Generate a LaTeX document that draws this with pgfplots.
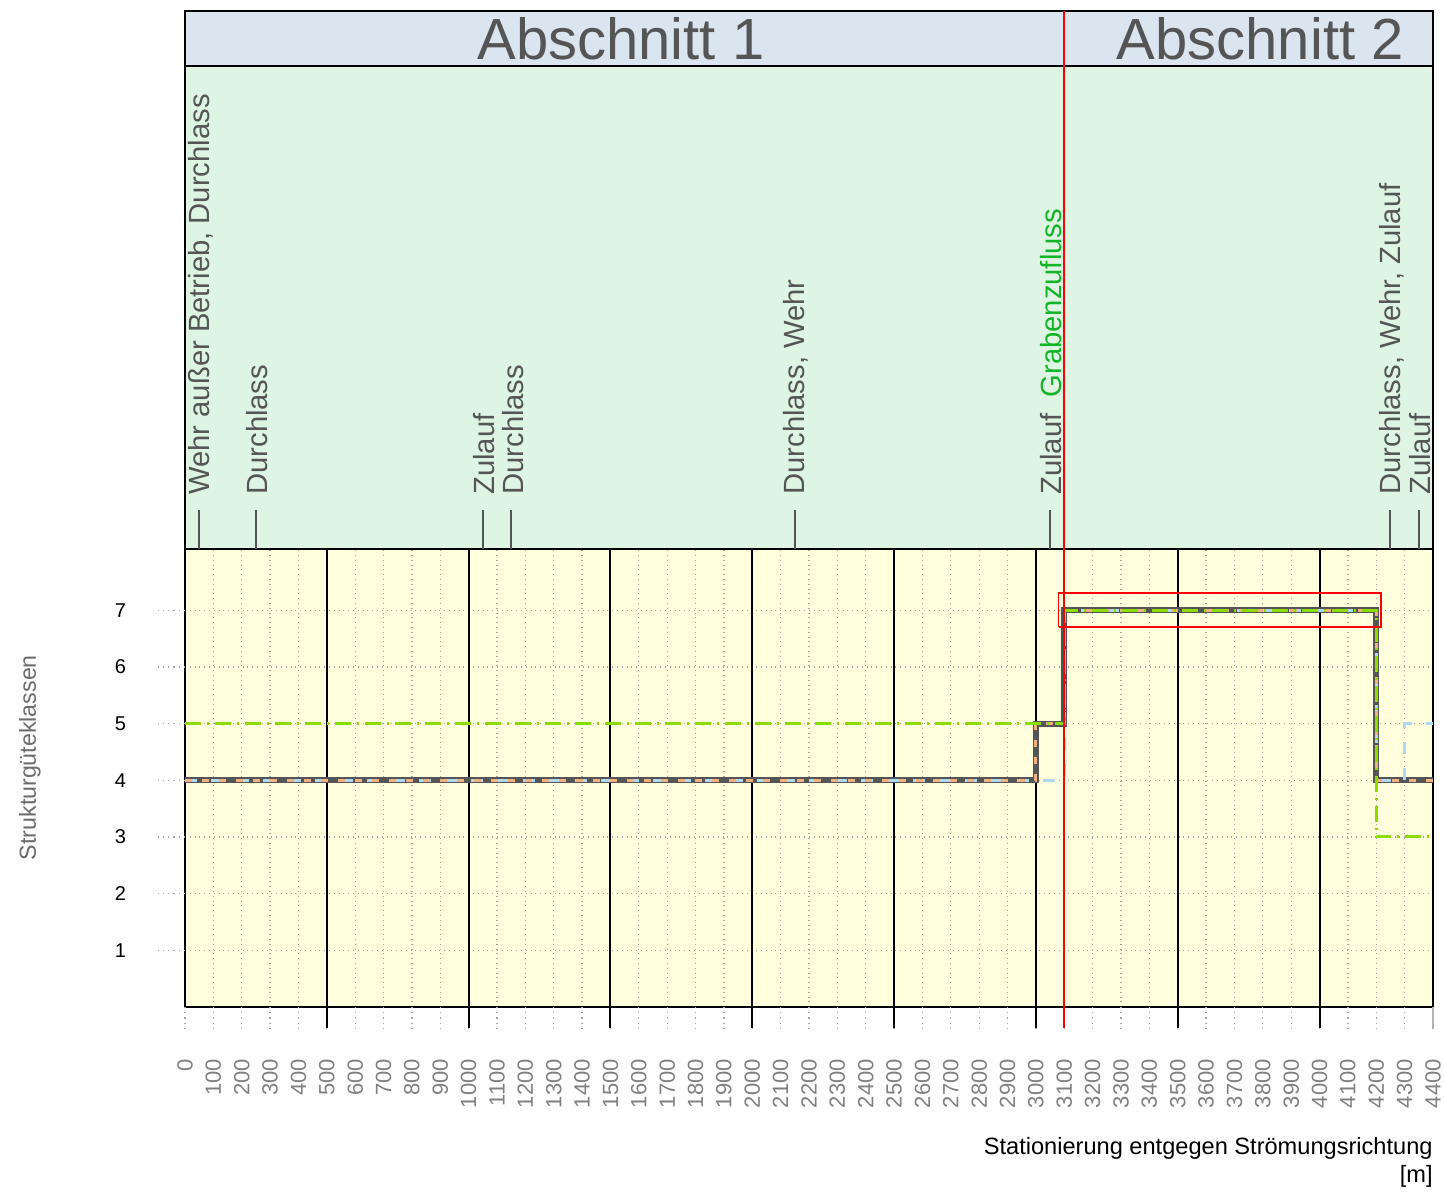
\documentclass[border=0pt]{standalone}
\usepackage{fontspec}
\setmainfont{Liberation Sans}
\usepackage{pgfplots}
\pgfplotsset{compat=1.18}
\usetikzlibrary{calc}
\definecolor{plotbg}{RGB}{255,255,222}
\definecolor{annbg}{RGB}{222,245,228}
\definecolor{stripbg}{RGB}{219,229,240}
\definecolor{dgrey}{RGB}{85,85,85}
\definecolor{sgrn}{RGB}{140,220,0}
\definecolor{sorange}{RGB}{240,176,128}
\definecolor{sblue}{RGB}{176,216,240}
\definecolor{agreen}{RGB}{20,180,40}
\definecolor{tgrey}{RGB}{128,128,128}
\definecolor{pred}{RGB}{255,0,0}
\begin{document}
\begin{tikzpicture}
\begin{axis}[
  scale only axis, width=624pt, height=229pt,
  xmin=0, xmax=4400, ymin=0, ymax=8.08,
  clip=false,
  axis background/.style={fill=plotbg},
  axis line style={black, line width=0.8pt},
  /pgf/number format/assume math mode=true,
  xtick={0,100,...,4400},
  ytick={1,...,7},
  major tick length=0pt,
  grid=major,
  grid style={gray!70, dotted, line width=0.6pt},
  extra x ticks={500,1000,...,4000},
  extra x tick labels={},
  extra x tick style={major grid style={black, solid, line width=1pt}},
  xticklabel style={yshift=-22.5pt, rotate=90, anchor=east, font=\fontsize{11}{12}\selectfont, text=tgrey},
  yticklabel style={xshift=-26pt, font=\fontsize{10}{12}\selectfont, text=black},
  /pgf/number format/1000 sep={},
]
% header panels
\fill[annbg] (rel axis cs:0,1) rectangle ($(rel axis cs:1,1)+(0,241.5pt)$);
\fill[stripbg] ($(rel axis cs:0,1)+(0,241.5pt)$) rectangle ($(rel axis cs:1,1)+(0,269pt)$);
\draw[black, line width=0.8pt] (rel axis cs:0,1) rectangle ($(rel axis cs:1,1)+(0,269pt)$);
\draw[black, line width=0.8pt] ($(rel axis cs:0,1)+(0,241.5pt)$) -- ($(rel axis cs:1,1)+(0,241.5pt)$);
\node[text=dgrey, font=\fontsize{29}{30}\selectfont, inner sep=0pt] at ($(axis cs:1537,8.08)+(0,255.25pt)$) {Abschnitt 1};
\node[text=dgrey, font=\fontsize{29}{30}\selectfont, inner sep=0pt] at ($(axis cs:3791,8.08)+(0,255.25pt)$) {Abschnitt 2};
% annotation ticks and labels
\pgfplotsinvokeforeach{50,250,1050,1150,2150,3050,4250,4350}{
  \draw[dgrey, line width=1pt] (axis cs:#1,8.08) -- ++(0,19.5pt);
}
\tikzset{ann/.style={rotate=90, anchor=west, inner sep=0pt, text=dgrey, font=\fontsize{14.6}{16}\selectfont}}
\node[ann] at ($(axis cs:55,8.08)+(0,27pt)$) {Wehr außer Betrieb, Durchlass};
\node[ann] at ($(axis cs:255,8.08)+(0,27pt)$) {Durchlass};
\node[ann] at ($(axis cs:1055,8.08)+(0,27pt)$) {Zulauf};
\node[ann] at ($(axis cs:1155,8.08)+(0,27pt)$) {Durchlass};
\node[ann] at ($(axis cs:2155,8.08)+(0,27pt)$) {Durchlass, Wehr};
\node[ann] at ($(axis cs:3055,8.08)+(0,27pt)$) {Zulauf\ \ \textcolor{agreen}{Grabenzufluss}};
\node[ann] at ($(axis cs:4255,8.08)+(0,27pt)$) {Durchlass, Wehr, Zulauf};
\node[ann] at ($(axis cs:4355,8.08)+(0,27pt)$) {Zulauf};
% tick extensions below axis
\pgfplotsinvokeforeach{0,100,...,4400}{
  \draw[gray!70, dotted, line width=0.6pt] (axis cs:#1,0) -- ++(0,-10.5pt);
}
\pgfplotsinvokeforeach{500,1000,...,4000}{
  \draw[black, line width=1pt] (axis cs:#1,0) -- ++(0,-10.5pt);
}
\draw[gray!60, line width=0.8pt] (axis cs:4400,0) -- ++(0,-10.5pt);
\pgfplotsinvokeforeach{1,...,7}{
  \draw[gray!70, dotted, line width=0.6pt] (axis cs:0,#1) -- ++(-15pt,0);
}
% data series
\addplot[const plot, dgrey, line width=3pt] coordinates {(0,4) (3000,5) (3100,7) (4200,4) (4400,4)};
\addplot[const plot, sblue, line width=1.5pt, dash pattern=on 6pt off 7pt] coordinates {(0,4) (3100,7) (4200,4) (4300,5) (4400,5)};
\addplot[const plot, sorange, line width=1.5pt, dash pattern=on 3.5pt off 5pt] coordinates {(0,4) (3000,5) (3100,7) (4200,4) (4400,4)};
\addplot[const plot, sgrn, line width=1.5pt, dash pattern=on 8pt off 3pt on 1pt off 3pt] coordinates {(0,5) (3100,7) (4200,3) (4400,3)};
% red rectangle
\addplot[draw=pred, line width=0.8pt, no marks] coordinates {(3080,6.7) (4217,6.7) (4217,7.3) (3080,7.3) (3080,6.7)};
% red section line
\draw[pred, line width=0.9pt] ($(axis cs:3100,0)+(0,-10.5pt)$) -- ($(axis cs:3100,8.08)+(0,269pt)$);
% labels
\node[rotate=90, text=gray!85!black, font=\fontsize{11.6}{13}\selectfont] at ($(axis cs:0,4.4)+(-77.5pt,0)$) {Strukturgüteklassen};
\node[anchor=north east, align=right, inner sep=0pt, font=\fontsize{11.8}{14}\selectfont] at ($(rel axis cs:1,0)+(0,-65pt)$) {Stationierung entgegen Strömungsrichtung\\{[m]}};
\coordinate (bl) at (rel axis cs:0,0);
\coordinate (tr) at (rel axis cs:1,1);
\end{axis}
\pgfresetboundingbox
\path ($(bl)+(-92.5pt,-92pt)$) rectangle ($(tr)+(5.5pt,274.5pt)$);
\end{tikzpicture}
\end{document}
